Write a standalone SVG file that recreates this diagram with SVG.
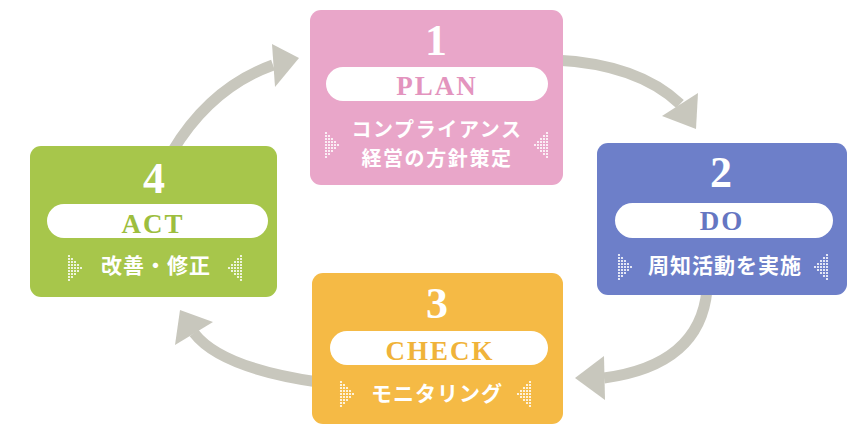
<svg xmlns="http://www.w3.org/2000/svg" xmlns:xlink="http://www.w3.org/1999/xlink" width="849" height="427" viewBox="0 0 849 427">
<style>
.num{font-family:"Liberation Serif",serif;font-weight:bold;font-size:44px;fill:#fff;text-anchor:middle}
.lbl{font-family:"Liberation Serif",serif;font-weight:bold;font-size:27px;letter-spacing:2px;text-anchor:middle}
.jp{font-family:"Noto Sans CJK JP",sans-serif;font-weight:bold;font-size:21px;letter-spacing:1px;fill:#fff;text-anchor:middle}
.jp2{font-size:20px;letter-spacing:1.6px}
.pill{fill:#fff}
.arr{fill:none;stroke:#C8C7BD;stroke-width:11}
.head{fill:#C8C7BD}
</style>
<defs>
<g id="dots" fill="#fff">
<circle cx="0" cy="-12" r="1.1"/><circle cx="0" cy="-9" r="1.1"/><circle cx="0" cy="-6" r="1.1"/><circle cx="0" cy="-3" r="1.1"/><circle cx="0" cy="0" r="1.1"/><circle cx="0" cy="3" r="1.1"/><circle cx="0" cy="6" r="1.1"/><circle cx="0" cy="9" r="1.1"/><circle cx="0" cy="12" r="1.1"/>
<circle cx="3" cy="-9" r="1.1"/><circle cx="3" cy="-6" r="1.1"/><circle cx="3" cy="-3" r="1.1"/><circle cx="3" cy="0" r="1.1"/><circle cx="3" cy="3" r="1.1"/><circle cx="3" cy="6" r="1.1"/><circle cx="3" cy="9" r="1.1"/>
<circle cx="6" cy="-6" r="1.1"/><circle cx="6" cy="-3" r="1.1"/><circle cx="6" cy="0" r="1.1"/><circle cx="6" cy="3" r="1.1"/><circle cx="6" cy="6" r="1.1"/>
<circle cx="9" cy="-3" r="1.1"/><circle cx="9" cy="0" r="1.1"/><circle cx="9" cy="3" r="1.1"/>
<circle cx="12" cy="0" r="1.1"/>
</g>
</defs>
<rect width="849" height="427" fill="#fff"/>
<g id="connectors">
<path class="arr" d="M555,60 Q638,64 680,104"/>
<polygon class="head" points="662,116 698,93 696,129"/>
<path class="arr" d="M707,290 Q700,365 604,378"/>
<polygon class="head" points="575,378 604,356 605,400"/>
<path class="arr" d="M318,382 Q221,368 194,333"/>
<polygon class="head" points="180,310 175,345 213,322"/>
<path class="arr" d="M172,152 Q210,88 273,65"/>
<polygon class="head" points="272,44 299,58 275,87"/>
</g>
<g id="plan">
<rect x="310" y="10" width="253" height="175" rx="11" fill="#E9A6C9"/>
<text class="num" x="436" y="55">1</text>
<rect class="pill" x="326" y="67" width="222" height="34" rx="17"/>
<text class="lbl" x="437" y="95" fill="#E394BE">PLAN</text>
<text class="jp jp2" x="437" y="137">コンプライアンス</text>
<text class="jp jp2" x="437" y="166">経営の方針策定</text>
<use xlink:href="#dots" transform="translate(326,145)"/>
<use xlink:href="#dots" transform="translate(547,145) scale(-1,1)"/>
</g>
<g id="do">
<rect x="597" y="143" width="250" height="152" rx="11" fill="#6D7FC9"/>
<text class="num" x="721" y="187">2</text>
<rect class="pill" x="615" y="203" width="218" height="35" rx="17.5"/>
<text class="lbl" x="722" y="230" fill="#6576C2">DO</text>
<text class="jp" x="725" y="273">周知活動を実施</text>
<use xlink:href="#dots" transform="translate(619,267)"/>
<use xlink:href="#dots" transform="translate(827,267) scale(-1,1)"/>
</g>
<g id="check">
<rect x="312" y="273" width="251" height="151" rx="11" fill="#F5BA45"/>
<text class="num" x="437" y="318">3</text>
<rect class="pill" x="330" y="331" width="218" height="34" rx="17"/>
<text class="lbl" x="440" y="360" fill="#F0B33A">CHECK</text>
<text class="jp" x="437" y="401">モニタリング</text>
<use xlink:href="#dots" transform="translate(341,394)"/>
<use xlink:href="#dots" transform="translate(530,394) scale(-1,1)"/>
</g>
<g id="act">
<rect x="30" y="146" width="247" height="151" rx="11" fill="#A7C64B"/>
<text class="num" x="154" y="193">4</text>
<rect class="pill" x="47" y="204" width="221" height="34" rx="17"/>
<text class="lbl" x="153" y="233" fill="#9DBE3E">ACT</text>
<text class="jp" x="156" y="273">改善・修正</text>
<use xlink:href="#dots" transform="translate(69,268)"/>
<use xlink:href="#dots" transform="translate(241,268) scale(-1,1)"/>
</g>
</svg>
